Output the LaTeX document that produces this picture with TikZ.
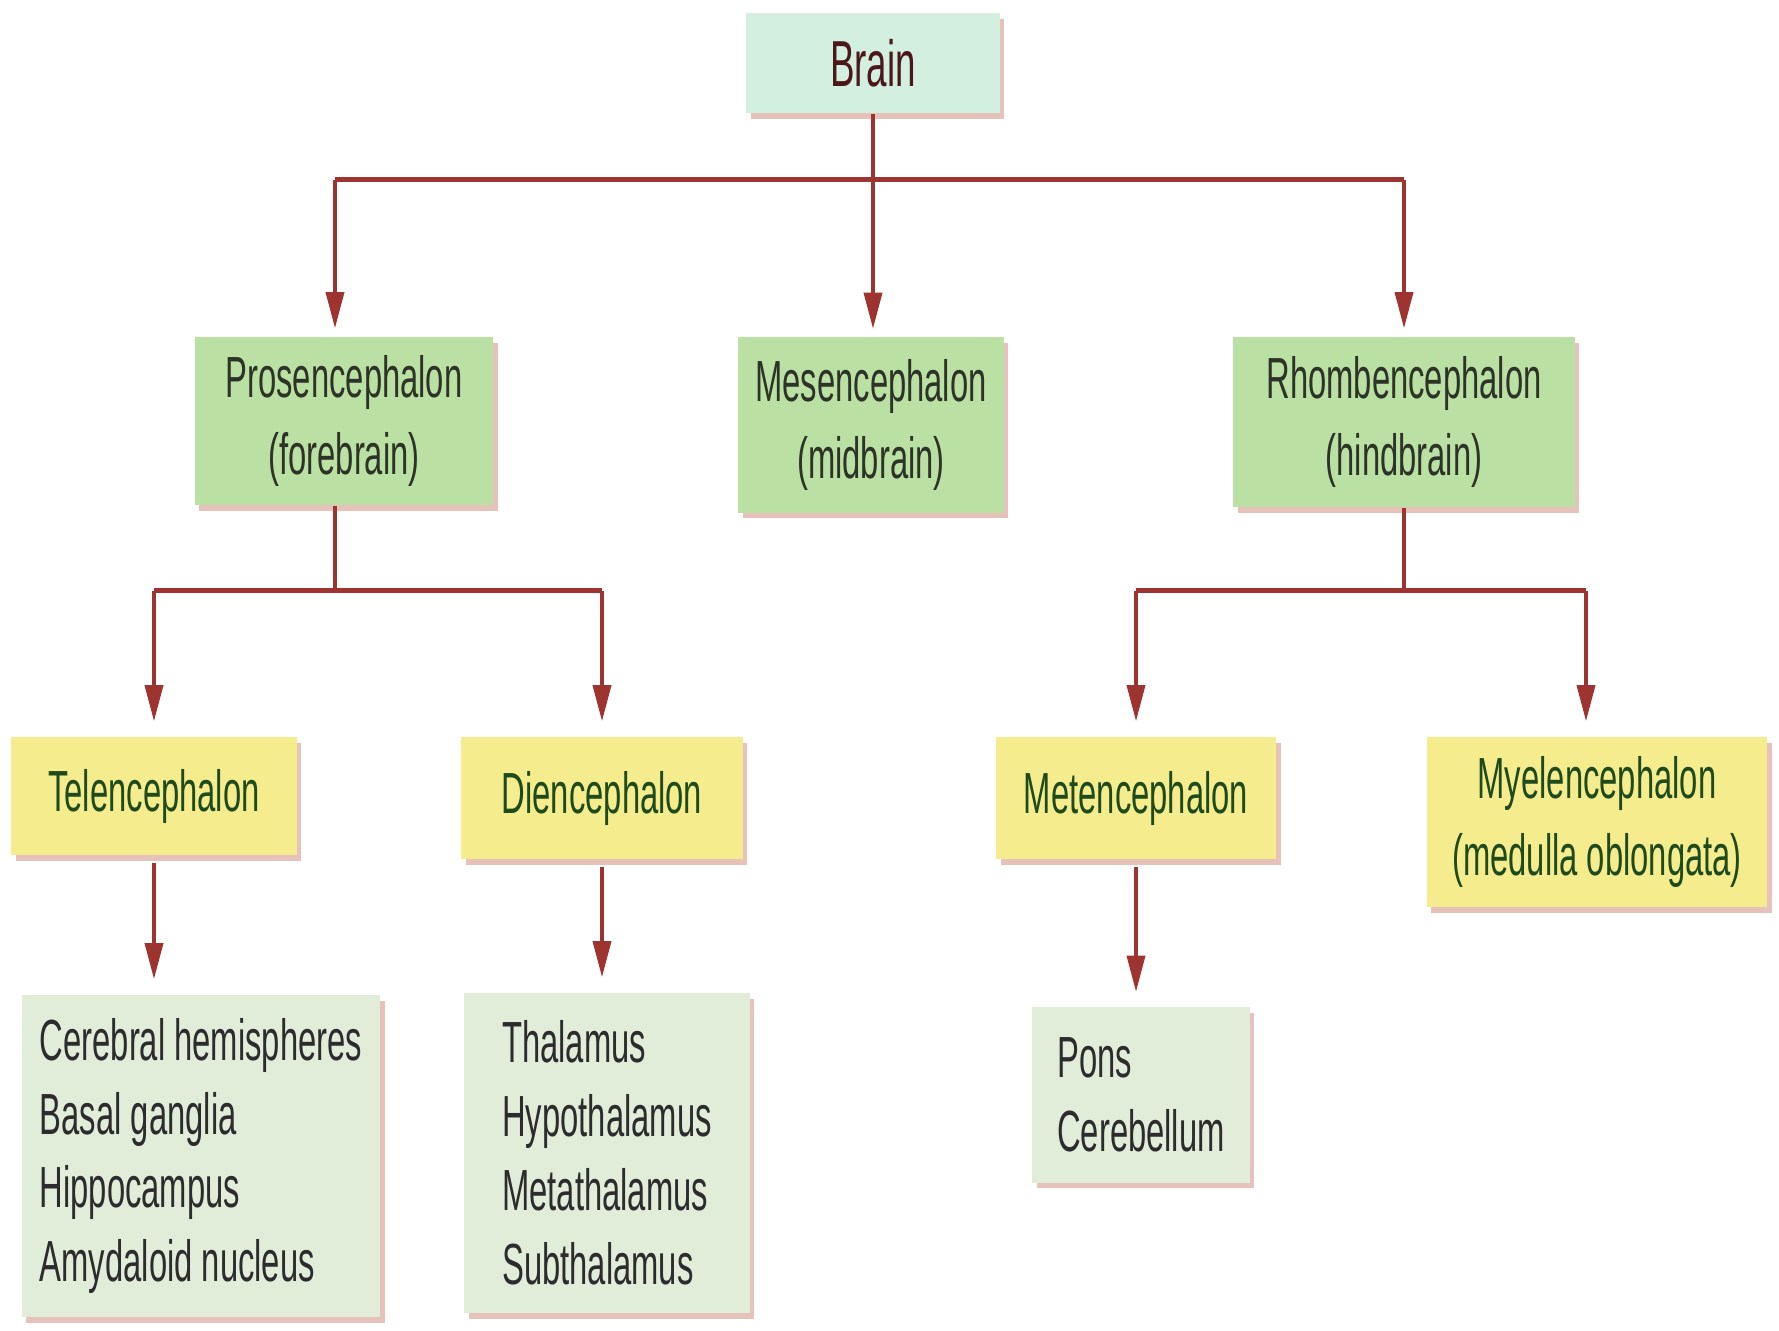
\documentclass[tikz,border=0pt]{standalone}
\usepackage{fontspec}
\setmainfont{Liberation Sans}[FakeStretch=0.565]
\usetikzlibrary{arrows.meta,shadows}
\definecolor{arrowc}{HTML}{9E3430}
\definecolor{brainfill}{HTML}{D3EFDF}
\definecolor{greenfill}{HTML}{BAE0A3}
\definecolor{yellowfill}{HTML}{F5EC8E}
\definecolor{listfill}{HTML}{E2EDD9}
\definecolor{shadowc}{HTML}{E6C2BA}
\definecolor{braintext}{HTML}{4A1818}
\definecolor{greentext}{HTML}{2E3328}
\definecolor{yellowtext}{HTML}{1F4A1C}
\definecolor{listtext}{HTML}{2C2C2C}
\begin{document}
\begin{tikzpicture}[x=0.01cm,y=-0.01cm,
  basebox/.style={rectangle, inner sep=0pt,
    font=\fontsize{16.5}{22}\selectfont,
    drop shadow={shadow xshift=1.3pt, shadow yshift=-1.6pt, fill=shadowc, opacity=1}},
  brainbox/.style={basebox, fill=brainfill, text=braintext, font=\fontsize{18.5}{22}\selectfont, align=center},
  greenbox/.style={basebox, fill=greenfill, text=greentext, align=center},
  yellowbox/.style={basebox, fill=yellowfill, text=yellowtext, align=center},
  listbox/.style={basebox, fill=listfill, text=listtext, align=left, font=\fontsize{16.5}{21}\selectfont},
  hline/.style={draw=arrowc, line width=1.5pt},
  vline/.style={draw=arrowc, line width=1pt},
  arr/.style={draw=arrowc, line width=1pt, -{Triangle[length=0.36cm, width=0.18cm]}, shorten >=0.15cm},
  arrtop/.style={arr, shorten >=0.08cm}
]
\useasboundingbox (0,0) rectangle (1779,1330);

% nodes
\node[brainbox, minimum width=2.53cm, minimum height=1.00cm] (brain) at (873,63) {Brain};

\node[greenbox, minimum width=2.98cm, minimum height=1.68cm] (pros) at (344,421) {Prosencephalon\\(forebrain)};
\node[greenbox, minimum width=2.65cm, minimum height=1.75cm] (mes) at (871,425) {Mesencephalon\\(midbrain)};
\node[greenbox, minimum width=3.41cm, minimum height=1.70cm] (rhomb) at (1404,422) {Rhombencephalon\\(hindbrain)};

\node[yellowbox, minimum width=2.85cm, minimum height=1.18cm] (tel) at (154,796) {Telencephalon};
\node[yellowbox, minimum width=2.81cm, minimum height=1.22cm] (di) at (602,798) {Diencephalon};
\node[yellowbox, minimum width=2.80cm, minimum height=1.22cm] (met) at (1136,798) {Metencephalon};
\node[yellowbox, minimum width=3.40cm, minimum height=1.70cm] (mye) at (1597,822) {Myelencephalon\\(medulla oblongata)};

\node[listbox, minimum width=3.58cm, minimum height=3.22cm] (cer) at (201,1156) {Cerebral hemispheres\\Basal ganglia\\Hippocampus\\Amydaloid nucleus};
\node[listbox, minimum width=2.85cm, minimum height=3.20cm] (thal) at (607,1153) {Thalamus\\Hypothalamus\\Metathalamus\\Subthalamus};
\node[listbox, minimum width=2.17cm, minimum height=1.75cm] (pons) at (1141,1095) {Pons\\Cerebellum};

% junctions
\path (brain.south) ++(0,66) coordinate (j1);
\path ([xshift=-0.09cm]pros.south) ++(0,85) coordinate (j2);
\path (rhomb.south) ++(0,83) coordinate (j3);
\coordinate (pin) at ([xshift=-0.09cm]pros.north);
\coordinate (myin) at ([xshift=-0.11cm]mye.north);

% level 1
\draw[vline] (brain.south) -- (j1);
\draw[hline] (pin |- j1) -- (rhomb.north |- j1);
\draw[arrtop] (pin |- j1) -- (pin);
\draw[arrtop] (j1) -- (j1 |- mes.north);
\draw[arrtop] (rhomb.north |- j1) -- (rhomb.north);

% level 2 (forebrain)
\draw[vline] ([xshift=-0.09cm]pros.south) -- (j2);
\draw[hline] (tel.north |- j2) -- (di.north |- j2);
\draw[arr] (tel.north |- j2) -- (tel.north);
\draw[arr] (di.north |- j2) -- (di.north);

% level 2 (hindbrain)
\draw[vline] (rhomb.south) -- (j3);
\draw[hline] (met.north |- j3) -- (myin |- j3);
\draw[arr] (met.north |- j3) -- (met.north);
\draw[arr] (myin |- j3) -- (myin);

% level 3
\draw[arr, shorten <=0.07cm] (tel.south) -- (tel.south |- cer.north);
\draw[arr, shorten <=0.07cm] (di.south) -- (di.south |- thal.north);
\draw[arr, shorten <=0.07cm] (met.south) -- (met.south |- pons.north);
\end{tikzpicture}
\end{document}
